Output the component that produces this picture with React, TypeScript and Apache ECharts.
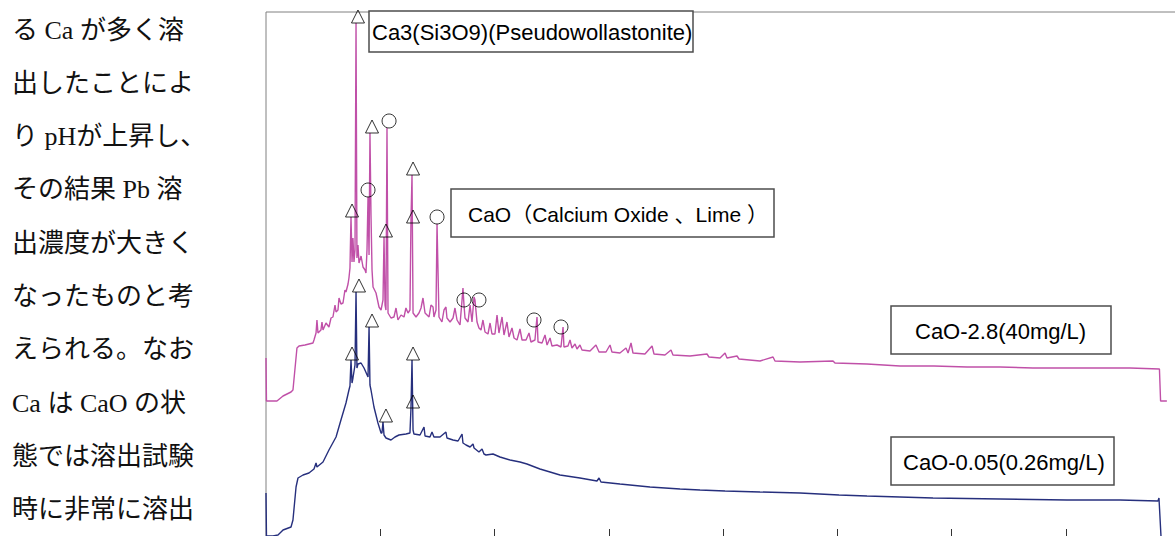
import React, { useEffect, useRef } from "react";
import * as echarts from "echarts";

// 2θ (deg) vs intensity (a.u.)
const magentaTrace: [number, number][] = [
  [0, 1790], [0.04, 1360], [0.96, 1360], [1.49, 1410], [2.19, 1450], [2.36, 1470], [2.71, 1890], [2.89, 1910],
  [3.41, 1920], [4.11, 1940], [4.2, 1970], [4.38, 2040], [4.46, 2170], [4.55, 2040], [4.81, 2070], [4.9, 2150],
  [4.99, 2070], [5.25, 2140], [5.51, 2100], [5.69, 2190], [5.86, 2200], [6.04, 2320], [6.13, 2250], [6.3, 2270],
  [6.39, 2390], [6.56, 2330], [6.74, 2340], [6.91, 2470], [7.0, 2450], [7.18, 2530], [7.26, 2590], [7.35, 2690],
  [7.44, 3200], [7.53, 2750], [7.61, 2990], [7.7, 2750], [7.79, 2870], [7.88, 5140], [7.96, 2790], [8.05, 2920],
  [8.14, 2740], [8.32, 2810], [8.49, 2700], [8.67, 2670], [8.75, 2640], [8.84, 2870], [8.93, 3400], [9.02, 2820],
  [9.1, 4040], [9.19, 3220], [9.28, 2670], [9.37, 2500], [9.63, 2440], [9.89, 2300], [10.07, 2270], [10.24, 2370],
  [10.33, 3000], [10.42, 2320], [10.5, 2270], [10.59, 4090], [10.68, 2240], [10.94, 2190], [11.2, 2200], [11.38, 2290],
  [11.55, 2170], [11.82, 2220], [12.08, 2200], [12.25, 2290], [12.43, 2240], [12.6, 2270], [12.69, 3170], [12.78, 3620],
  [12.87, 2240], [13.13, 2200], [13.39, 2240], [13.57, 2290], [13.74, 2390], [13.92, 2240], [14.27, 2200], [14.44, 2320],
  [14.62, 2300], [14.7, 2200], [14.88, 2270], [14.97, 3130], [15.14, 2200], [15.4, 2150], [15.58, 2270], [15.75, 2300],
  [15.84, 2190], [16.11, 2150], [16.37, 2190], [16.54, 2290], [16.72, 2170], [16.98, 2120], [17.16, 2370], [17.24, 2490],
  [17.33, 2320], [17.42, 2190], [17.68, 2150], [17.86, 2320], [18.03, 2150], [18.21, 2400], [18.29, 2370], [18.47, 2150],
  [18.64, 2090], [18.82, 2070], [18.99, 2170], [19.17, 2050], [19.43, 2030], [19.61, 2140], [19.78, 2030], [20.04, 2030],
  [20.22, 2220], [20.39, 2040], [20.66, 2200], [20.83, 2020], [21.09, 2150], [21.27, 2000], [21.53, 2090], [21.71, 1990],
  [21.97, 1970], [22.23, 2080], [22.41, 1970], [22.76, 1970], [23.02, 2040], [23.19, 1950], [23.54, 1970], [23.72, 2200],
  [23.81, 1950], [24.16, 1940], [24.42, 2020], [24.6, 1920], [24.86, 1990], [25.03, 1910], [25.47, 1920], [25.82, 1900],
  [26.0, 2100], [26.08, 1900], [26.43, 1910], [26.61, 1970], [26.78, 1890], [27.05, 1930], [27.22, 1880], [27.48, 1920],
  [27.66, 1870], [28.36, 1860], [28.88, 1920], [29.15, 1850], [29.76, 1850], [30.11, 1920], [30.28, 1850], [30.98, 1840],
  [31.51, 1890], [31.69, 1840], [31.95, 1940], [32.12, 1840], [33.17, 1830], [33.79, 1910], [33.96, 1830], [34.92, 1820],
  [35.45, 1870], [35.62, 1820], [37.11, 1810], [38.6, 1830], [38.77, 1800], [39.74, 1790], [40.18, 1840], [40.35, 1790],
  [41.23, 1810], [41.4, 1780], [43.24, 1760], [44.38, 1800], [44.55, 1760], [46.74, 1750], [49.63, 1760], [49.8, 1740],
  [52.6, 1730], [55.49, 1710], [58.47, 1710], [61.36, 1700], [64.25, 1700], [67.13, 1690], [70.11, 1690], [73.0, 1690],
  [75.62, 1690], [78.2, 1680], [78.3, 1360], [78.85, 1360],
];

const blueTrace: [number, number][] = [
  [0, 440], [0.04, 10], [0.61, 10], [1.05, 20], [1.49, 70], [2.19, 100], [2.36, 170], [2.63, 500], [2.8, 590],
  [3.24, 620], [3.76, 640], [4.2, 680], [4.38, 740], [4.46, 700], [4.99, 750], [5.51, 870], [6.13, 1000], [6.56, 1170],
  [7.0, 1340], [7.26, 1470], [7.35, 1510], [7.44, 1770], [7.53, 1540], [7.61, 1590], [7.79, 1720], [7.88, 2450],
  [7.96, 1690], [8.05, 1730], [8.32, 1740], [8.58, 1690], [8.93, 1600], [9.02, 2100], [9.1, 1520], [9.19, 1470],
  [9.45, 1300], [9.8, 1140], [10.07, 1040], [10.15, 1040], [10.24, 1150], [10.33, 1020], [10.5, 990], [10.94, 970],
  [11.29, 1000], [11.64, 1020], [12.25, 1030], [12.6, 1040], [12.69, 1290], [12.78, 1770], [12.87, 1070], [12.95, 1030],
  [13.48, 1020], [13.83, 1100], [13.92, 1010], [14.35, 1000], [14.53, 1050], [14.7, 1000], [15.23, 1000], [15.75, 1050],
  [15.84, 990], [16.37, 970], [16.81, 960], [17.16, 1030], [17.24, 940], [17.51, 920], [17.86, 900], [18.12, 930],
  [18.21, 890], [18.64, 850], [18.91, 880], [19.08, 830], [19.26, 820], [19.87, 830], [20.48, 800], [21.36, 770],
  [22.23, 750], [22.84, 730], [23.98, 680], [24.86, 650], [25.73, 620], [27.48, 590], [28.97, 560], [29.15, 590],
  [29.32, 550], [30.98, 530], [33.61, 500], [36.24, 480], [37.99, 470], [40.18, 460], [43.24, 450], [46.74, 440],
  [50.15, 420], [52.6, 410], [55.49, 400], [58.38, 390], [64.25, 380], [70.11, 370], [74.75, 370], [78.07, 360],
  [78.16, 390], [78.34, 0],
];

// peak markers (position of the marker base)
const magentaTriangles: [number, number][] = [
  [7.53, 3200], [8.05, 5140], [9.28, 4040], [10.5, 3000], [12.87, 3620], [12.87, 3140],
];
const magentaCircles: [number, number][] = [
  [8.93, 3400], [10.77, 4090], [14.97, 3130], [17.33, 2300], [18.64, 2300], [23.46, 2100], [25.82, 2030],
];
const blueTriangles: [number, number][] = [
  [7.53, 1770], [8.14, 2450], [9.28, 2100], [10.5, 1150], [12.87, 1770], [12.87, 1290],
];

const xTicks = { min: 0, max: 80, interval: 10 };

const bodyLines = [
  "る Ca が多く溶",
  "出したことによ",
  "り pHが上昇し、",
  "その結果 Pb 溶",
  "出濃度が大きく",
  "なったものと考",
  "えられる。なお",
  "Ca は CaO の状",
  "態では溶出試験",
  "時に非常に溶出",
];

const labelBoxes = [
  { text: "Ca3(Si3O9)(Pseudowollastonite)", x: 369, y: 11, w: 324, h: 41, tx: 372, fs: 22 },
  { text: "CaO（Calcium Oxide 、Lime ）", x: 451, y: 189, w: 323, h: 48, tx: 468, fs: 21 },
  { text: "CaO-2.8(40mg/L)", x: 891, y: 306, w: 220, h: 48, tx: 915, fs: 22 },
  { text: "CaO-0.05(0.26mg/L)", x: 891, y: 437, w: 223, h: 48, tx: 903, fs: 22 },
];

export default function App() {
  const ref = useRef<HTMLDivElement>(null);
  useEffect(() => {
    if (!ref.current) return;
    const chart = echarts.init(ref.current, null, { renderer: "svg" });
    const graphic: any[] = [];
    bodyLines.forEach((t, i) => {
      graphic.push({
        type: "text",
        x: 12,
        y: 30 + i * 53.3,
        z: 50,
        style: {
          text: t,
          fill: "#111",
          font: '26px "Liberation Serif", "Noto Sans CJK JP"',
          textVerticalAlign: "middle",
          verticalAlign: "middle",
        },
      });
    });
    labelBoxes.forEach((b) => {
      graphic.push({
        type: "rect",
        z: 60,
        shape: { x: b.x, y: b.y, width: b.w, height: b.h },
        style: { fill: "#fff", stroke: "#4d4d4d", lineWidth: 1.5 },
      });
      graphic.push({
        type: "text",
        z: 61,
        x: b.tx,
        y: b.y + b.h / 2 + 1,
        style: {
          text: b.text,
          fill: "#000",
          font: `${b.fs}px "Liberation Sans", Arial, "Noto Sans CJK JP"`,
          textVerticalAlign: "middle",
          verticalAlign: "middle",
        },
      });
    });
    const markerStyle = { color: "rgba(0,0,0,0)", borderColor: "#000", borderWidth: 1 };
    chart.setOption({
      animation: false,
      grid: {
        left: 266,
        top: 12,
        width: 914,
        height: 525,
        show: true,
        borderColor: "#808080",
        borderWidth: 1,
      },
      xAxis: {
        type: "value",
        min: xTicks.min,
        max: xTicks.max,
        interval: xTicks.interval,
        axisLine: { show: true, lineStyle: { color: "#808080" } },
        axisTick: { show: true, inside: true, length: 8, lineStyle: { color: "#333" } },
        axisLabel: { show: false },
        splitLine: { show: false },
      },
      yAxis: { type: "value", min: 0, max: 5250, show: false, splitLine: { show: false } },
      series: [
        {
          type: "line",
          data: magentaTrace,
          showSymbol: false,
          lineStyle: { color: "#c050a8", width: 1.4 },
          z: 2,
        },
        {
          type: "line",
          data: blueTrace,
          showSymbol: false,
          lineStyle: { color: "#262f7d", width: 1.4 },
          z: 3,
        },
        {
          type: "scatter",
          data: [...magentaTriangles, ...blueTriangles],
          symbol: "triangle",
          symbolSize: [13, 13],
          symbolOffset: [0, "-50%"],
          itemStyle: markerStyle,
          clip: false,
          z: 5,
        },
        {
          type: "scatter",
          data: magentaCircles,
          symbol: "circle",
          symbolSize: 14,
          symbolOffset: [0, "-50%"],
          itemStyle: markerStyle,
          clip: false,
          z: 5,
        },
      ],
      graphic,
    });
    return () => chart.dispose();
  }, []);
  return (
    <div style={{ position: "absolute", left: 0, top: 0, width: 1175, height: 536, overflow: "hidden", background: "#fff" }}>
      <div ref={ref} style={{ width: 1200, height: 545 }} />
    </div>
  );
}
